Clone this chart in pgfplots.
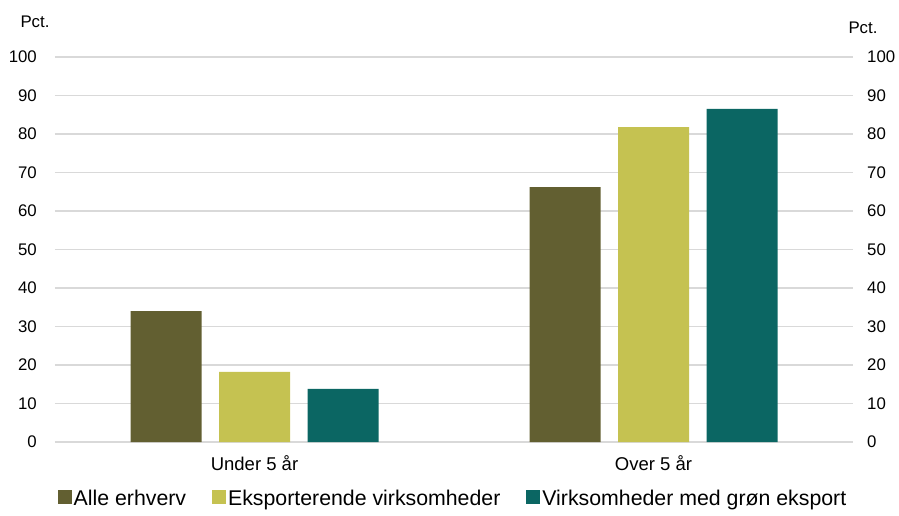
\documentclass[border=0pt]{standalone}
\usepackage{pgfplots}
\pgfplotsset{compat=1.18}
\usepackage{fontspec}
\setmainfont{Liberation Sans}
\definecolor{colA}{HTML}{625F31}
\definecolor{colB}{HTML}{C5C251}
\definecolor{colC}{HTML}{0B6663}
\definecolor{gridc}{HTML}{D9D9D9}
\begin{document}
\begin{tikzpicture}[x=1pt,y=1pt]
\path[use as bounding box] (0,0) rectangle (899,515);
\pgfplotsset{
  basechart/.style={
    scale only axis,
    width=798pt, height=385pt,
    at={(55pt,73pt)}, anchor=south west,
    xmin=-0.5, xmax=1.5, ymin=0, ymax=100,
    ytick={0,10,...,100},
    axis line style={draw=none},
    major tick length=0pt,
    /pgf/number format/assume math mode=true,
  }
}
\begin{axis}[
  basechart,
  ybar=17.5pt,
  bar width=71pt,
  xtick=data,
  xticklabels={Under 5 år, Over 5 år},
  xticklabel style={font=\fontsize{18.5}{20}\selectfont, inner sep=0pt, anchor=north, yshift=-13pt},
  yticklabel style={font=\fontsize{16.8}{20}\selectfont, inner sep=0pt, anchor=east, xshift=-18pt},
  ymajorgrids,
  grid style={gridc, line width=1.2pt},
  legend columns=3,
  legend style={draw=none, fill=none, at={(0.4987,-0.1480)}, anchor=center,
    font=\fontsize{21.3}{23}\selectfont, inner sep=0pt,
    /tikz/every even column/.append style={column sep=24pt}},
  legend image code/.code={\fill[#1] (2pt,-5pt) rectangle (16pt,9pt);},
  legend cell align=left,
]
\addplot[fill=colA, draw=none] coordinates {(0,34.0) (1,66.2)};
\addplot[fill=colB, draw=none] coordinates {(0,18.2) (1,81.8)};
\addplot[fill=colC, draw=none] coordinates {(0,13.8) (1,86.5)};
\legend{Alle erhverv, Eksporterende virksomheder, Virksomheder med grøn eksport}
\end{axis}
\begin{axis}[
  basechart,
  xtick=\empty,
  yticklabel pos=right,
  yticklabel style={font=\fontsize{16.8}{20}\selectfont, inner sep=0pt, anchor=west, xshift=14pt},
]
\addplot[draw=none] coordinates {(0,0) (1,100)};
\end{axis}
\node[font=\fontsize{16.8}{20}\selectfont] at (35,493) {Pct.};
\node[font=\fontsize{16.8}{20}\selectfont] at (863,487) {Pct.};
\end{tikzpicture}
\end{document}
